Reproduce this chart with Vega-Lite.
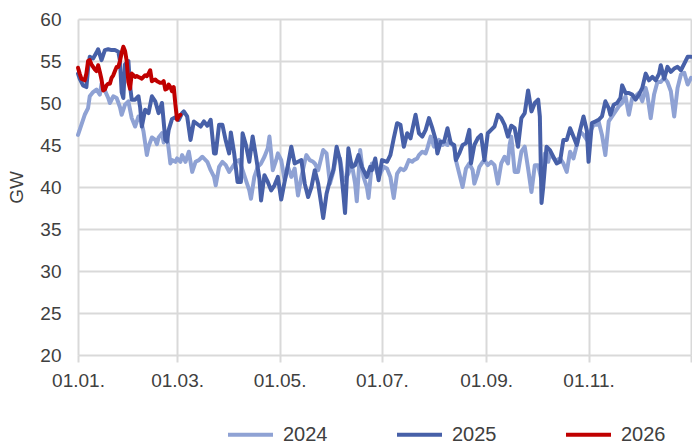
{
  "$schema": "https://vega.github.io/schema/vega-lite/v6.json",
  "width": 613,
  "height": 336,
  "autosize": "none",
  "padding": {"left": 78, "top": 19, "right": 1, "bottom": 90},
  "background": "white",
  "config": {
    "view": {"stroke": null},
    "font": "Liberation Sans"
  },
  "data": {"values": [
{"s":"2024","d":0,"v":46.2},{"s":"2024","d":2,"v":47.4},{"s":"2024","d":4,"v":48.6},{"s":"2024","d":6,"v":49.4},{"s":"2024","d":7,"v":50.8},{"s":"2024","d":9,"v":51.3},{"s":"2024","d":11,"v":51.6},{"s":"2024","d":13,"v":51.0},{"s":"2024","d":14,"v":52.3},{"s":"2024","d":16,"v":51.5},{"s":"2024","d":18,"v":50.6},{"s":"2024","d":19,"v":50.0},{"s":"2024","d":21,"v":50.8},{"s":"2024","d":23,"v":50.6},{"s":"2024","d":25,"v":49.5},{"s":"2024","d":26,"v":48.6},{"s":"2024","d":28,"v":49.8},{"s":"2024","d":30,"v":50.2},{"s":"2024","d":32,"v":48.2},{"s":"2024","d":34,"v":47.2},{"s":"2024","d":36,"v":48.4},{"s":"2024","d":37,"v":48.3},{"s":"2024","d":39,"v":46.6},{"s":"2024","d":41,"v":43.8},{"s":"2024","d":42,"v":44.8},{"s":"2024","d":44,"v":45.9},{"s":"2024","d":46,"v":45.6},{"s":"2024","d":47,"v":45.1},{"s":"2024","d":48,"v":45.9},{"s":"2024","d":50,"v":46.4},{"s":"2024","d":51,"v":45.3},{"s":"2024","d":53,"v":46.2},{"s":"2024","d":55,"v":42.8},{"s":"2024","d":56,"v":43.2},{"s":"2024","d":58,"v":43.0},{"s":"2024","d":59,"v":43.4},{"s":"2024","d":61,"v":43.0},{"s":"2024","d":62,"v":43.8},{"s":"2024","d":64,"v":43.0},{"s":"2024","d":66,"v":44.2},{"s":"2024","d":68,"v":41.8},{"s":"2024","d":70,"v":43.0},{"s":"2024","d":72,"v":43.2},{"s":"2024","d":74,"v":43.6},{"s":"2024","d":75,"v":43.4},{"s":"2024","d":77,"v":43.0},{"s":"2024","d":79,"v":42.0},{"s":"2024","d":81,"v":41.2},{"s":"2024","d":82,"v":40.2},{"s":"2024","d":84,"v":42.4},{"s":"2024","d":86,"v":43.0},{"s":"2024","d":88,"v":42.6},{"s":"2024","d":90,"v":41.8},{"s":"2024","d":92,"v":42.4},{"s":"2024","d":94,"v":43.0},{"s":"2024","d":96,"v":43.2},{"s":"2024","d":98,"v":42.0},{"s":"2024","d":100,"v":40.8},{"s":"2024","d":102,"v":39.6},{"s":"2024","d":103,"v":38.6},{"s":"2024","d":105,"v":41.2},{"s":"2024","d":107,"v":42.4},{"s":"2024","d":109,"v":42.8},{"s":"2024","d":111,"v":43.6},{"s":"2024","d":113,"v":44.6},{"s":"2024","d":114,"v":46.0},{"s":"2024","d":116,"v":42.0},{"s":"2024","d":118,"v":43.2},{"s":"2024","d":119,"v":44.0},{"s":"2024","d":121,"v":43.2},{"s":"2024","d":123,"v":40.8},{"s":"2024","d":125,"v":42.4},{"s":"2024","d":127,"v":41.2},{"s":"2024","d":129,"v":42.2},{"s":"2024","d":131,"v":39.0},{"s":"2024","d":133,"v":41.2},{"s":"2024","d":135,"v":43.0},{"s":"2024","d":136,"v":43.8},{"s":"2024","d":138,"v":43.2},{"s":"2024","d":140,"v":43.0},{"s":"2024","d":141,"v":42.8},{"s":"2024","d":143,"v":42.0},{"s":"2024","d":145,"v":43.6},{"s":"2024","d":146,"v":44.4},{"s":"2024","d":148,"v":44.0},{"s":"2024","d":150,"v":40.4},{"s":"2024","d":152,"v":41.8},{"s":"2024","d":154,"v":43.8},{"s":"2024","d":156,"v":43.4},{"s":"2024","d":158,"v":40.8},{"s":"2024","d":160,"v":41.2},{"s":"2024","d":161,"v":41.6},{"s":"2024","d":163,"v":42.8},{"s":"2024","d":165,"v":40.4},{"s":"2024","d":166,"v":38.3},{"s":"2024","d":168,"v":44.4},{"s":"2024","d":170,"v":41.2},{"s":"2024","d":172,"v":40.0},{"s":"2024","d":173,"v":38.7},{"s":"2024","d":175,"v":42.8},{"s":"2024","d":177,"v":42.4},{"s":"2024","d":179,"v":41.2},{"s":"2024","d":181,"v":42.0},{"s":"2024","d":182,"v":42.4},{"s":"2024","d":184,"v":42.2},{"s":"2024","d":186,"v":41.2},{"s":"2024","d":188,"v":38.7},{"s":"2024","d":190,"v":41.6},{"s":"2024","d":192,"v":42.2},{"s":"2024","d":194,"v":42.0},{"s":"2024","d":195,"v":42.2},{"s":"2024","d":197,"v":43.2},{"s":"2024","d":199,"v":43.0},{"s":"2024","d":200,"v":43.2},{"s":"2024","d":202,"v":43.4},{"s":"2024","d":203,"v":43.8},{"s":"2024","d":205,"v":44.2},{"s":"2024","d":207,"v":44.0},{"s":"2024","d":208,"v":44.6},{"s":"2024","d":210,"v":46.0},{"s":"2024","d":212,"v":44.8},{"s":"2024","d":214,"v":45.2},{"s":"2024","d":215,"v":45.6},{"s":"2024","d":217,"v":45.0},{"s":"2024","d":218,"v":45.2},{"s":"2024","d":220,"v":45.0},{"s":"2024","d":221,"v":45.6},{"s":"2024","d":223,"v":45.0},{"s":"2024","d":224,"v":44.8},{"s":"2024","d":225,"v":43.2},{"s":"2024","d":227,"v":41.6},{"s":"2024","d":229,"v":40.0},{"s":"2024","d":231,"v":42.2},{"s":"2024","d":233,"v":42.8},{"s":"2024","d":235,"v":42.0},{"s":"2024","d":236,"v":40.4},{"s":"2024","d":238,"v":41.6},{"s":"2024","d":239,"v":42.4},{"s":"2024","d":241,"v":43.0},{"s":"2024","d":242,"v":43.2},{"s":"2024","d":244,"v":42.6},{"s":"2024","d":246,"v":43.0},{"s":"2024","d":248,"v":42.6},{"s":"2024","d":250,"v":40.4},{"s":"2024","d":252,"v":42.8},{"s":"2024","d":254,"v":43.6},{"s":"2024","d":256,"v":42.8},{"s":"2024","d":257,"v":45.0},{"s":"2024","d":258,"v":46.0},{"s":"2024","d":260,"v":41.8},{"s":"2024","d":262,"v":41.8},{"s":"2024","d":264,"v":44.2},{"s":"2024","d":266,"v":44.8},{"s":"2024","d":268,"v":42.2},{"s":"2024","d":270,"v":39.4},{"s":"2024","d":272,"v":42.6},{"s":"2024","d":274,"v":42.6},{"s":"2024","d":276,"v":40.8},{"s":"2024","d":278,"v":44.0},{"s":"2024","d":280,"v":43.0},{"s":"2024","d":281,"v":44.0},{"s":"2024","d":284,"v":43.2},{"s":"2024","d":285,"v":43.2},{"s":"2024","d":287,"v":43.4},{"s":"2024","d":289,"v":42.8},{"s":"2024","d":291,"v":41.8},{"s":"2024","d":293,"v":44.2},{"s":"2024","d":295,"v":43.4},{"s":"2024","d":297,"v":45.0},{"s":"2024","d":299,"v":46.6},{"s":"2024","d":301,"v":46.2},{"s":"2024","d":303,"v":45.6},{"s":"2024","d":305,"v":46.6},{"s":"2024","d":307,"v":47.4},{"s":"2024","d":309,"v":47.4},{"s":"2024","d":310,"v":47.8},{"s":"2024","d":312,"v":46.2},{"s":"2024","d":314,"v":43.8},{"s":"2024","d":316,"v":47.8},{"s":"2024","d":318,"v":48.4},{"s":"2024","d":320,"v":49.0},{"s":"2024","d":322,"v":49.6},{"s":"2024","d":324,"v":50.0},{"s":"2024","d":326,"v":50.8},{"s":"2024","d":328,"v":48.6},{"s":"2024","d":330,"v":50.6},{"s":"2024","d":332,"v":50.8},{"s":"2024","d":334,"v":51.2},{"s":"2024","d":336,"v":50.2},{"s":"2024","d":338,"v":51.8},{"s":"2024","d":339,"v":51.0},{"s":"2024","d":341,"v":48.2},{"s":"2024","d":343,"v":51.0},{"s":"2024","d":345,"v":52.5},{"s":"2024","d":347,"v":52.5},{"s":"2024","d":349,"v":53.0},{"s":"2024","d":351,"v":52.5},{"s":"2024","d":353,"v":51.4},{"s":"2024","d":355,"v":48.4},{"s":"2024","d":357,"v":51.8},{"s":"2024","d":359,"v":53.4},{"s":"2024","d":361,"v":53.6},{"s":"2024","d":363,"v":52.2},{"s":"2024","d":365,"v":53.0},
{"s":"2025","d":0,"v":53.5},{"s":"2025","d":1,"v":52.9},{"s":"2025","d":3,"v":52.1},{"s":"2025","d":5,"v":51.9},{"s":"2025","d":6,"v":54.1},{"s":"2025","d":7,"v":55.5},{"s":"2025","d":9,"v":55.3},{"s":"2025","d":11,"v":56.0},{"s":"2025","d":12,"v":56.4},{"s":"2025","d":14,"v":55.1},{"s":"2025","d":16,"v":56.3},{"s":"2025","d":18,"v":56.4},{"s":"2025","d":20,"v":56.3},{"s":"2025","d":22,"v":56.3},{"s":"2025","d":24,"v":56.1},{"s":"2025","d":25,"v":55.0},{"s":"2025","d":26,"v":51.3},{"s":"2025","d":27,"v":50.6},{"s":"2025","d":28,"v":54.6},{"s":"2025","d":30,"v":55.0},{"s":"2025","d":31,"v":52.0},{"s":"2025","d":32,"v":50.4},{"s":"2025","d":34,"v":50.4},{"s":"2025","d":36,"v":50.8},{"s":"2025","d":37,"v":49.5},{"s":"2025","d":38,"v":47.2},{"s":"2025","d":40,"v":49.2},{"s":"2025","d":42,"v":48.8},{"s":"2025","d":44,"v":50.8},{"s":"2025","d":46,"v":50.2},{"s":"2025","d":48,"v":48.8},{"s":"2025","d":50,"v":50.0},{"s":"2025","d":52,"v":45.6},{"s":"2025","d":53,"v":45.4},{"s":"2025","d":54,"v":46.8},{"s":"2025","d":56,"v":48.1},{"s":"2025","d":58,"v":48.3},{"s":"2025","d":60,"v":48.0},{"s":"2025","d":62,"v":48.8},{"s":"2025","d":63,"v":49.0},{"s":"2025","d":65,"v":48.4},{"s":"2025","d":67,"v":45.6},{"s":"2025","d":69,"v":47.8},{"s":"2025","d":71,"v":47.5},{"s":"2025","d":73,"v":47.2},{"s":"2025","d":75,"v":47.8},{"s":"2025","d":77,"v":47.3},{"s":"2025","d":79,"v":48.0},{"s":"2025","d":81,"v":44.0},{"s":"2025","d":82,"v":44.0},{"s":"2025","d":84,"v":47.4},{"s":"2025","d":86,"v":47.4},{"s":"2025","d":88,"v":45.5},{"s":"2025","d":90,"v":44.0},{"s":"2025","d":91,"v":46.5},{"s":"2025","d":93,"v":44.0},{"s":"2025","d":95,"v":40.6},{"s":"2025","d":97,"v":40.6},{"s":"2025","d":98,"v":46.4},{"s":"2025","d":100,"v":45.0},{"s":"2025","d":102,"v":43.0},{"s":"2025","d":104,"v":46.0},{"s":"2025","d":106,"v":43.6},{"s":"2025","d":108,"v":41.0},{"s":"2025","d":109,"v":38.4},{"s":"2025","d":111,"v":41.4},{"s":"2025","d":113,"v":40.6},{"s":"2025","d":115,"v":39.6},{"s":"2025","d":117,"v":40.2},{"s":"2025","d":119,"v":41.2},{"s":"2025","d":121,"v":38.5},{"s":"2025","d":123,"v":40.6},{"s":"2025","d":125,"v":42.6},{"s":"2025","d":127,"v":44.8},{"s":"2025","d":129,"v":42.8},{"s":"2025","d":131,"v":43.0},{"s":"2025","d":133,"v":43.2},{"s":"2025","d":135,"v":40.4},{"s":"2025","d":137,"v":38.8},{"s":"2025","d":139,"v":40.0},{"s":"2025","d":141,"v":42.0},{"s":"2025","d":143,"v":40.4},{"s":"2025","d":145,"v":37.7},{"s":"2025","d":146,"v":36.3},{"s":"2025","d":148,"v":39.2},{"s":"2025","d":150,"v":40.8},{"s":"2025","d":152,"v":42.0},{"s":"2025","d":154,"v":44.8},{"s":"2025","d":156,"v":43.2},{"s":"2025","d":158,"v":39.2},{"s":"2025","d":159,"v":36.9},{"s":"2025","d":161,"v":44.6},{"s":"2025","d":163,"v":42.4},{"s":"2025","d":165,"v":42.6},{"s":"2025","d":167,"v":43.8},{"s":"2025","d":169,"v":42.4},{"s":"2025","d":172,"v":41.2},{"s":"2025","d":174,"v":42.4},{"s":"2025","d":175,"v":42.0},{"s":"2025","d":177,"v":43.4},{"s":"2025","d":179,"v":40.8},{"s":"2025","d":181,"v":43.2},{"s":"2025","d":184,"v":43.0},{"s":"2025","d":186,"v":43.8},{"s":"2025","d":188,"v":45.8},{"s":"2025","d":190,"v":47.6},{"s":"2025","d":192,"v":47.4},{"s":"2025","d":194,"v":44.8},{"s":"2025","d":196,"v":46.4},{"s":"2025","d":198,"v":45.8},{"s":"2025","d":201,"v":48.6},{"s":"2025","d":203,"v":46.4},{"s":"2025","d":205,"v":46.0},{"s":"2025","d":207,"v":46.8},{"s":"2025","d":209,"v":48.2},{"s":"2025","d":211,"v":47.0},{"s":"2025","d":213,"v":45.6},{"s":"2025","d":214,"v":44.0},{"s":"2025","d":216,"v":45.4},{"s":"2025","d":218,"v":45.4},{"s":"2025","d":220,"v":47.0},{"s":"2025","d":222,"v":45.2},{"s":"2025","d":224,"v":45.0},{"s":"2025","d":225,"v":43.2},{"s":"2025","d":227,"v":44.0},{"s":"2025","d":229,"v":45.0},{"s":"2025","d":231,"v":45.2},{"s":"2025","d":233,"v":46.8},{"s":"2025","d":234,"v":42.8},{"s":"2025","d":236,"v":45.0},{"s":"2025","d":238,"v":45.8},{"s":"2025","d":240,"v":46.2},{"s":"2025","d":242,"v":43.2},{"s":"2025","d":244,"v":46.4},{"s":"2025","d":246,"v":46.8},{"s":"2025","d":248,"v":47.2},{"s":"2025","d":250,"v":48.6},{"s":"2025","d":252,"v":48.2},{"s":"2025","d":254,"v":47.4},{"s":"2025","d":256,"v":46.0},{"s":"2025","d":258,"v":47.3},{"s":"2025","d":260,"v":47.0},{"s":"2025","d":262,"v":44.8},{"s":"2025","d":264,"v":48.2},{"s":"2025","d":266,"v":48.8},{"s":"2025","d":268,"v":51.5},{"s":"2025","d":270,"v":49.0},{"s":"2025","d":272,"v":50.0},{"s":"2025","d":274,"v":50.4},{"s":"2025","d":275,"v":48.4},{"s":"2025","d":276,"v":38.1},{"s":"2025","d":277,"v":40.0},{"s":"2025","d":279,"v":44.8},{"s":"2025","d":281,"v":44.4},{"s":"2025","d":283,"v":43.6},{"s":"2025","d":285,"v":42.8},{"s":"2025","d":287,"v":43.0},{"s":"2025","d":289,"v":45.6},{"s":"2025","d":291,"v":45.6},{"s":"2025","d":293,"v":47.0},{"s":"2025","d":295,"v":46.0},{"s":"2025","d":297,"v":45.0},{"s":"2025","d":299,"v":46.8},{"s":"2025","d":301,"v":48.4},{"s":"2025","d":303,"v":46.7},{"s":"2025","d":304,"v":43.0},{"s":"2025","d":306,"v":47.6},{"s":"2025","d":308,"v":47.8},{"s":"2025","d":310,"v":48.0},{"s":"2025","d":312,"v":48.4},{"s":"2025","d":314,"v":50.2},{"s":"2025","d":316,"v":49.4},{"s":"2025","d":317,"v":48.6},{"s":"2025","d":319,"v":49.8},{"s":"2025","d":321,"v":50.0},{"s":"2025","d":323,"v":50.6},{"s":"2025","d":324,"v":52.1},{"s":"2025","d":326,"v":51.2},{"s":"2025","d":328,"v":51.2},{"s":"2025","d":330,"v":51.0},{"s":"2025","d":332,"v":50.4},{"s":"2025","d":334,"v":51.0},{"s":"2025","d":336,"v":51.8},{"s":"2025","d":338,"v":53.5},{"s":"2025","d":340,"v":52.7},{"s":"2025","d":342,"v":53.1},{"s":"2025","d":344,"v":52.7},{"s":"2025","d":346,"v":53.5},{"s":"2025","d":347,"v":54.5},{"s":"2025","d":349,"v":52.9},{"s":"2025","d":351,"v":54.3},{"s":"2025","d":353,"v":53.7},{"s":"2025","d":355,"v":54.1},{"s":"2025","d":357,"v":54.3},{"s":"2025","d":359,"v":53.9},{"s":"2025","d":361,"v":54.7},{"s":"2025","d":363,"v":55.5},{"s":"2025","d":365,"v":55.5},
{"s":"2026","d":0,"v":54.2},{"s":"2026","d":1,"v":53.5},{"s":"2026","d":2,"v":52.9},{"s":"2026","d":3,"v":52.8},{"s":"2026","d":4,"v":52.7},{"s":"2026","d":5,"v":53.5},{"s":"2026","d":6,"v":55.0},{"s":"2026","d":7,"v":55.1},{"s":"2026","d":8,"v":54.6},{"s":"2026","d":10,"v":54.0},{"s":"2026","d":11,"v":53.8},{"s":"2026","d":12,"v":54.5},{"s":"2026","d":13,"v":53.7},{"s":"2026","d":14,"v":52.8},{"s":"2026","d":15,"v":51.5},{"s":"2026","d":16,"v":51.6},{"s":"2026","d":17,"v":52.1},{"s":"2026","d":18,"v":52.3},{"s":"2026","d":19,"v":52.3},{"s":"2026","d":20,"v":53.0},{"s":"2026","d":21,"v":53.3},{"s":"2026","d":22,"v":53.8},{"s":"2026","d":23,"v":54.3},{"s":"2026","d":24,"v":54.3},{"s":"2026","d":25,"v":55.0},{"s":"2026","d":26,"v":56.0},{"s":"2026","d":27,"v":56.7},{"s":"2026","d":28,"v":56.2},{"s":"2026","d":29,"v":55.0},{"s":"2026","d":30,"v":52.5},{"s":"2026","d":31,"v":51.7},{"s":"2026","d":32,"v":53.5},{"s":"2026","d":33,"v":53.3},{"s":"2026","d":34,"v":53.1},{"s":"2026","d":35,"v":53.2},{"s":"2026","d":36,"v":53.1},{"s":"2026","d":37,"v":53.0},{"s":"2026","d":38,"v":52.9},{"s":"2026","d":39,"v":53.1},{"s":"2026","d":40,"v":53.3},{"s":"2026","d":41,"v":53.2},{"s":"2026","d":42,"v":53.5},{"s":"2026","d":43,"v":53.9},{"s":"2026","d":44,"v":52.6},{"s":"2026","d":45,"v":52.7},{"s":"2026","d":46,"v":52.8},{"s":"2026","d":47,"v":52.6},{"s":"2026","d":48,"v":52.5},{"s":"2026","d":49,"v":52.4},{"s":"2026","d":50,"v":52.4},{"s":"2026","d":51,"v":52.6},{"s":"2026","d":52,"v":51.6},{"s":"2026","d":53,"v":51.7},{"s":"2026","d":54,"v":52.2},{"s":"2026","d":55,"v":51.9},{"s":"2026","d":56,"v":51.4},{"s":"2026","d":57,"v":51.9},{"s":"2026","d":58,"v":49.8},{"s":"2026","d":59,"v":48.0},{"s":"2026","d":60,"v":48.4},{"s":"2026","d":61,"v":48.6}
  ]},
  "mark": {"type": "line", "strokeWidth": 4, "strokeJoin": "round", "strokeCap": "round"},
  "encoding": {
    "x": {
      "field": "d", "type": "quantitative",
      "scale": {"domain": [0, 365], "nice": false, "zero": false},
      "axis": {
        "title": null, "values": [0, 59, 120, 181, 243, 304, 365],
        "labelExpr": "datum.value == 0 ? '01.01.' : datum.value == 59 ? '01.03.' : datum.value == 120 ? '01.05.' : datum.value == 181 ? '01.07.' : datum.value == 243 ? '01.09.' : datum.value == 304 ? '01.11.' : ''",
        "grid": true, "gridColor": "#D9D9D9", "gridWidth": 2,
        "domain": false, "ticks": true, "tickColor": "#D9D9D9", "tickWidth": 2, "tickSize": 7,
        "labelFontSize": 19, "labelColor": "#404040", "labelPadding": 9, "labelFlush": false
      }
    },
    "y": {
      "field": "v", "type": "quantitative",
      "scale": {"domain": [20, 60], "nice": false, "zero": false},
      "axis": {
        "title": "GW", "values": [20, 25, 30, 35, 40, 45, 50, 55, 60],
        "grid": true, "gridColor": "#D9D9D9", "gridWidth": 2,
        "domain": false, "ticks": false, "labelFontSize": 19, "labelColor": "#404040", "labelPadding": 17,
        "titleFontSize": 19, "titleFontWeight": "normal", "titleColor": "#404040", "titlePadding": 13
      }
    },
    "color": {
      "field": "s", "type": "nominal",
      "scale": {"domain": ["2024", "2025", "2026"], "range": ["#8FA2D4", "#4760A8", "#C00000"]},
      "legend": {
        "title": null, "orient": "none", "direction": "horizontal",
        "legendX": 148, "legendY": 391,
        "symbolType": "stroke", "symbolSize": 2025, "symbolStrokeWidth": 4,
        "labelFontSize": 20, "labelColor": "#404040", "labelOffset": 8, "columnPadding": 61
      }
    }
  }
}
